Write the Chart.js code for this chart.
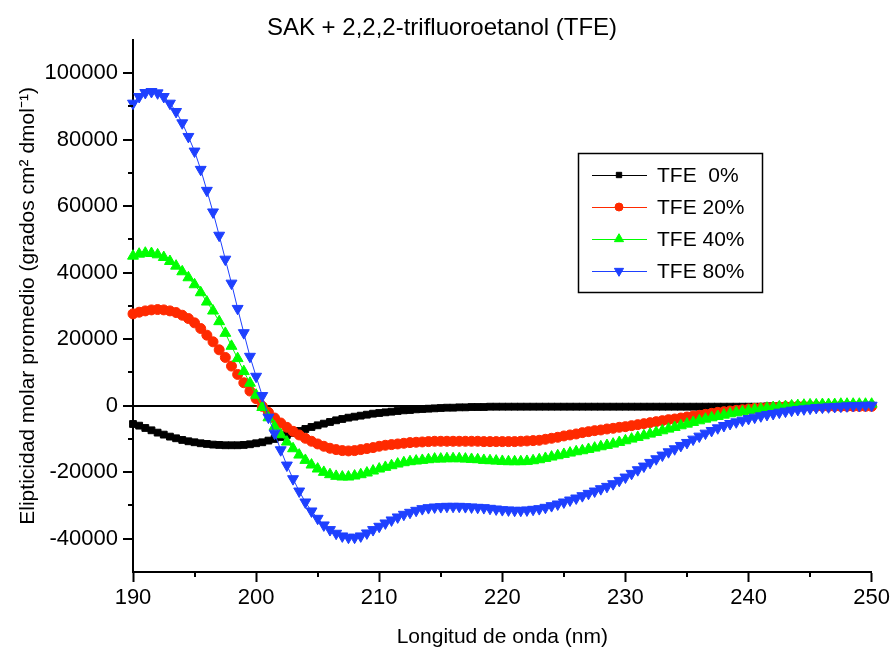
<!DOCTYPE html>
<html>
<head>
<meta charset="utf-8">
<script src="https://cdn.jsdelivr.net/npm/chart.js@4.4.1/dist/chart.umd.min.js"></script>
<style>
  html, body { margin: 0; padding: 0; background: #fff; }
  #wrap { width: 893px; height: 656px; }
</style>
</head>
<body>
<div id="wrap"><canvas id="cdChart" width="893" height="656"></canvas></div>
<script>
const wavelength = [
  190, 190.5, 191, 191.5, 192, 192.5, 193, 193.5, 194, 194.5,
  195, 195.5, 196, 196.5, 197, 197.5, 198, 198.5, 199, 199.5,
  200, 200.5, 201, 201.5, 202, 202.5, 203, 203.5, 204, 204.5,
  205, 205.5, 206, 206.5, 207, 207.5, 208, 208.5, 209, 209.5,
  210, 210.5, 211, 211.5, 212, 212.5, 213, 213.5, 214, 214.5,
  215, 215.5, 216, 216.5, 217, 217.5, 218, 218.5, 219, 219.5,
  220, 220.5, 221, 221.5, 222, 222.5, 223, 223.5, 224, 224.5,
  225, 225.5, 226, 226.5, 227, 227.5, 228, 228.5, 229, 229.5,
  230, 230.5, 231, 231.5, 232, 232.5, 233, 233.5, 234, 234.5,
  235, 235.5, 236, 236.5, 237, 237.5, 238, 238.5, 239, 239.5,
  240, 240.5, 241, 241.5, 242, 242.5, 243, 243.5, 244, 244.5,
  245, 245.5, 246, 246.5, 247, 247.5, 248, 248.5, 249, 249.5, 250
];

const tfe0 = [
  -5500, -6000, -6700, -7400, -8100, -8700, -9300, -9800, -10300, -10700,
  -11000, -11300, -11500, -11700, -11800, -11900, -11900, -11900, -11800, -11600,
  -11300, -11000, -10500, -10000, -9400, -8800, -8200, -7600, -7000, -6400,
  -5900, -5400, -4900, -4400, -4000, -3600, -3300, -3000, -2700, -2400,
  -2200, -2000, -1800, -1600, -1400, -1300, -1100, -1000, -900, -800,
  -700, -600, -600, -500, -500, -400, -400, -400, -300, -300,
  -300, -300, -300, -300, -300, -300, -300, -300, -300, -300,
  -300, -300, -300, -300, -300, -300, -300, -300, -300, -300,
  -300, -300, -300, -300, -300, -300, -300, -300, -300, -300,
  -300, -300, -300, -300, -300, -300, -300, -300, -300, -300,
  -300, -300, -300, -200, -200, -200, -200, -200, -200, -200,
  -200, -100, -100, -100, -100, 0, 0, 0, 0, 0, 0
];

const tfe20 = [
  27600, 28100, 28500, 28800, 28900, 28800, 28500, 28000, 27200, 26200,
  24900, 23200, 21200, 19200, 16800, 14500, 11900, 9400, 6900, 4400,
  2100, -200, -2000, -3700, -5200, -6500, -7700, -8800, -9800, -10700,
  -11500, -12200, -12800, -13200, -13500, -13600, -13500, -13200, -12900, -12600,
  -12200, -11900, -11700, -11500, -11300, -11100, -11000, -10900, -10800, -10700,
  -10700, -10700, -10700, -10700, -10700, -10700, -10700, -10800, -10800, -10800,
  -10800, -10800, -10800, -10700, -10600, -10500, -10400, -10100, -9800, -9500,
  -9100, -8800, -8500, -8100, -7800, -7500, -7300, -7000, -6800, -6500,
  -6300, -6000, -5700, -5400, -5100, -4800, -4500, -4200, -4000, -3700,
  -3400, -3100, -2900, -2600, -2300, -2000, -1800, -1600, -1400, -1200,
  -1000, -800, -700, -600, -500, -400, -300, -300, -200, -200,
  -200, -200, -200, -200, -200, -200, -200, -200, -200, -200, -200
];

const tfe40 = [
  45000, 45600, 45900, 45800, 45400, 44600, 43400, 42000, 40300, 38500,
  36400, 34000, 31200, 28500, 25300, 21800, 17900, 14200, 10300, 6800,
  3200, -500, -3600, -6300, -8700, -10900, -12900, -14800, -16400, -17800,
  -19000, -20000, -20700, -21200, -21400, -21400, -21100, -20700, -20200, -19600,
  -19000, -18500, -18000, -17500, -17100, -16800, -16600, -16400, -16200, -16000,
  -16000, -15900, -15900, -15900, -16000, -16100, -16200, -16400, -16500, -16600,
  -16700, -16800, -16800, -16800, -16700, -16500, -16200, -15800, -15400, -15000,
  -14600, -14200, -13800, -13500, -13100, -12700, -12300, -11900, -11500, -11000,
  -10500, -10000, -9500, -9000, -8500, -8000, -7500, -7000, -6500, -6000,
  -5500, -5000, -4500, -4000, -3600, -3200, -2800, -2400, -2100, -1800,
  -1500, -1200, -1000, -700, -500, -300, -200, 0, 100, 200,
  300, 300, 400, 400, 400, 500, 500, 500, 500, 500, 500
];

const tfe80 = [
  90900, 92900, 94100, 94400, 94000, 92900, 90900, 88400, 85000, 80900,
  76500, 71000, 64700, 58200, 51200, 44000, 36800, 29200, 21900, 14800,
  8800, 3000, -3500, -8300, -13300, -17900, -22000, -25700, -29000, -31700,
  -33900, -35900, -37300, -38400, -39200, -39600, -39600, -39200, -38300, -37300,
  -36300, -35300, -34400, -33500, -32700, -32100, -31500, -31000, -30700, -30500,
  -30400, -30300, -30300, -30300, -30400, -30500, -30600, -30700, -30900, -31100,
  -31300, -31400, -31500, -31500, -31400, -31200, -31000, -30600, -30100, -29600,
  -29000, -28400, -27800, -27100, -26400, -25700, -25000, -24300, -23500, -22500,
  -21500, -20400, -19300, -18200, -17100, -16000, -14900, -13900, -13000, -12000,
  -11100, -10100, -9200, -8300, -7500, -6700, -6000, -5400, -4900, -4400,
  -3900, -3500, -3100, -2700, -2400, -2000, -1700, -1400, -1200, -1000,
  -800, -600, -500, -400, -300, -200, -100, 0, 0, 100, 100
];

const seriesLabels = ['TFE  0%', 'TFE 20%', 'TFE 40%', 'TFE 80%'];
const seriesColors = ['#000000', '#FF2A00', '#00FF00', '#1E40FF'];
const yTickValues = [-40000, -20000, 0, 20000, 40000, 60000, 80000, 100000];
const yMinorTicks = [-30000, -10000, 10000, 30000, 50000, 70000, 90000];
const xMinorTicks = [195, 205, 215, 225, 235, 245];

const FONT = "'Liberation Sans', Arial, sans-serif";

function toPoints(ys) {
  return wavelength.map((x, i) => ({ x: x, y: ys[i] }));
}

function makeSet(label, ys, color, style, radius, rotation, order) {
  return {
    label: label,
    data: toPoints(ys),
    borderColor: color,
    backgroundColor: color,
    borderWidth: 1,
    pointStyle: style,
    pointRadius: radius,
    pointRotation: rotation,
    pointBorderWidth: 1,
    pointBackgroundColor: color,
    pointBorderColor: color,
    tension: 0,
    clip: false,
    order: order,
  };
}

// minor ticks are shorter than the labelled ones
const minorTicks = {
  id: 'minorTicks',
  afterDraw(chart) {
    const ctx = chart.ctx;
    const area = chart.chartArea;
    const xs = chart.scales.x;
    const ys = chart.scales.y;
    ctx.save();
    ctx.strokeStyle = '#000';
    ctx.lineWidth = 2;
    ctx.beginPath();
    xMinorTicks.forEach(v => {
      const px = Math.round(xs.getPixelForValue(v));
      ctx.moveTo(px, area.bottom);
      ctx.lineTo(px, area.bottom + 5);
    });
    yMinorTicks.forEach(v => {
      const py = Math.round(ys.getPixelForValue(v));
      ctx.moveTo(area.left - 5, py);
      ctx.lineTo(area.left, py);
    });
    ctx.stroke();
    ctx.restore();
  }
};

// boxed legend inside the plot, like the original
const boxLegend = {
  id: 'boxLegend',
  afterDatasetsDraw(chart) {
    const ctx = chart.ctx;
    const box = { x: 578, y: 153, w: 184, h: 139 };
    ctx.save();
    ctx.fillStyle = '#fff';
    ctx.fillRect(box.x, box.y, box.w, box.h);
    ctx.strokeStyle = '#000';
    ctx.lineWidth = 1.5;
    ctx.strokeRect(box.x + 0.5, box.y + 0.5, box.w, box.h);
    chart.data.datasets.forEach((ds, i) => {
      const y = box.y + 22 + i * 32;
      ctx.strokeStyle = ds.borderColor;
      ctx.lineWidth = 1;
      ctx.beginPath();
      ctx.moveTo(box.x + 14, y + 0.5);
      ctx.lineTo(box.x + 69, y + 0.5);
      ctx.stroke();
      ctx.fillStyle = ds.pointBackgroundColor;
      ctx.strokeStyle = ds.pointBorderColor;
      if (Chart.helpers && Chart.helpers.drawPoint) {
        Chart.helpers.drawPoint(ctx, {
          pointStyle: ds.pointStyle,
          rotation: ds.pointRotation,
          radius: ds.pointRadius - 1,
          borderWidth: 1,
        }, box.x + 41, y);
      }
      ctx.fillStyle = '#000';
      ctx.font = '21px ' + FONT;
      ctx.textBaseline = 'middle';
      ctx.textAlign = 'left';
      ctx.fillText(seriesLabels[i], box.x + 79, y + 1);
    });
    ctx.restore();
  }
};

const tickFont = { family: FONT, size: 22 };

new Chart(document.getElementById('cdChart'), {
  type: 'line',
  data: {
    datasets: [
      makeSet(seriesLabels[0], tfe0, seriesColors[0], 'rect', 4.8, 0, 3),
      makeSet(seriesLabels[1], tfe20, seriesColors[1], 'circle', 5, 0, 2),
      makeSet(seriesLabels[2], tfe40, seriesColors[2], 'triangle', 6.3, 0, 1),
      makeSet(seriesLabels[3], tfe80, seriesColors[3], 'triangle', 6.3, 180, 0),
    ],
  },
  options: {
    responsive: false,
    animation: false,
    devicePixelRatio: 1,
    layout: { padding: { left: 12, right: 21, top: 0, bottom: 2 } },
    plugins: {
      legend: { display: false },
      tooltip: { enabled: false },
      title: {
        display: true,
        text: 'SAK + 2,2,2-trifluoroetanol (TFE)',
        color: '#000',
        font: { family: FONT, size: 24, weight: 'normal' },
        padding: { top: 14, bottom: -3 },
      },
    },
    scales: {
      x: {
        type: 'linear',
        min: 190,
        max: 250,
        ticks: {
          stepSize: 10,
          color: '#000',
          font: tickFont,
          padding: 3,
          maxRotation: 0,
          callback: v => String(v),
        },
        grid: {
          drawOnChartArea: false,
          drawTicks: true,
          tickLength: 10,
          tickWidth: 2,
          tickColor: '#000',
        },
        border: { display: true, color: '#000', width: 2 },
        title: {
          display: true,
          text: 'Longitud de onda (nm)',
          color: '#000',
          font: { family: FONT, size: 21 },
          padding: { top: 4, bottom: 4 },
        },
        afterFit: s => { s.height = 82; },
      },
      y: {
        type: 'linear',
        min: -50000,
        max: 110000,
        afterBuildTicks: s => { s.ticks = yTickValues.map(v => ({ value: v })); },
        ticks: {
          color: '#000',
          font: tickFont,
          padding: 5,
          callback: v => String(v),
        },
        grid: {
          drawOnChartArea: true,
          color: c => (c.tick && c.tick.value === 0 ? '#000' : 'rgba(0,0,0,0)'),
          lineWidth: 2,
          drawTicks: true,
          tickLength: 10,
          tickWidth: 2,
          tickColor: '#000',
        },
        border: { display: true, color: '#000', width: 2 },
        title: {
          display: true,
          text: 'Elipticidad molar promedio (grados cm² dmol⁻¹)',
          color: '#000',
          font: { family: FONT, size: 21 },
          padding: { top: 4, bottom: 4 },
        },
        afterFit: s => { s.width = 121; },
      },
    },
  },
  plugins: [minorTicks, boxLegend],
});
</script>
</body>
</html>
